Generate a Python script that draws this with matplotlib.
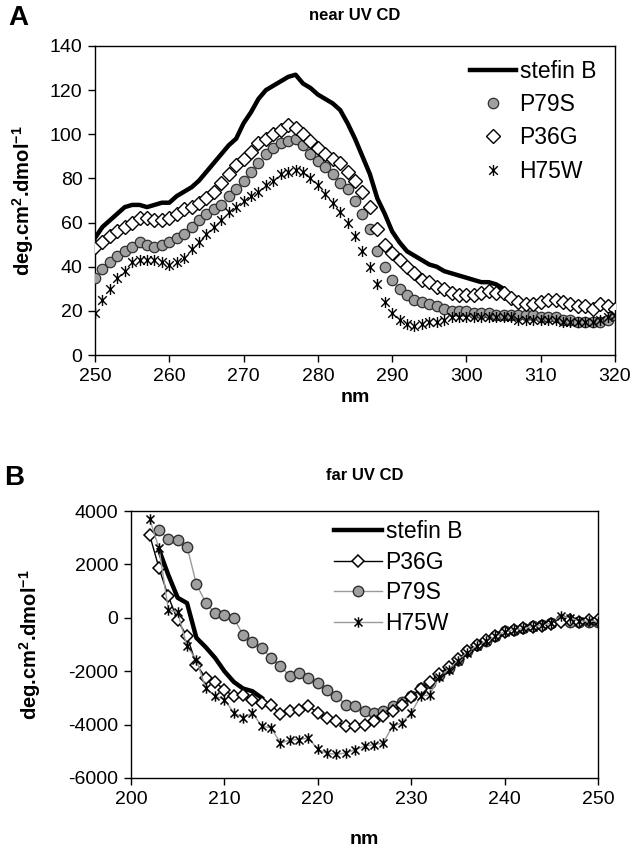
import numpy as np
import matplotlib
matplotlib.use("Agg")
import matplotlib.pyplot as plt
from matplotlib.path import Path

plt.rcParams["font.family"] = ["Liberation Sans", "DejaVu Sans"]
plt.rcParams["mathtext.fontset"] = "custom"
plt.rcParams["mathtext.bf"] = "Liberation Sans:bold"
plt.rcParams["mathtext.rm"] = "Liberation Sans:bold"
plt.rcParams["axes.unicode_minus"] = False

# ---------------- near UV CD (panel A) ----------------
nm_near = np.arange(250, 321)
nm_stefin_near = np.arange(250, 306)
stefin_near = [53, 58, 61, 64, 67, 68, 68, 67, 68, 69,
               69, 72, 74, 76, 79, 83, 87, 91, 95, 98,
               105, 110, 116, 120, 122, 124, 126, 127, 123, 121,
               118, 116, 114, 111, 105, 98, 90, 82, 71, 64,
               56, 51, 47, 45, 43, 41, 40, 38, 37, 36,
               35, 34, 33, 33, 32, 30]
p79s_near = [35, 39, 42, 45, 47, 49, 51, 50, 49, 50,
             51, 53, 55, 58, 61, 64, 66, 68, 72, 75,
             79, 83, 87, 91, 94, 96, 97, 98, 95, 91,
             88, 85, 82, 78, 75, 70, 64, 57, 47, 40,
             34, 30, 27, 25, 24, 23, 22, 21, 20, 20,
             20, 19, 19, 19, 18, 18, 18, 18, 18, 18,
             17, 17, 17, 16, 16, 15, 15, 15, 15, 16, 18]
p36g_near = [49, 51, 54, 56, 58, 60, 62, 62, 61, 61,
             62, 64, 66, 67, 69, 71, 74, 78, 82, 86,
             89, 92, 96, 98, 100, 102, 104, 103, 100, 97,
             94, 91, 89, 87, 83, 79, 74, 67, 57, 50,
             46, 43, 40, 37, 34, 33, 31, 30, 28, 27,
             27, 27, 28, 29, 28, 28, 26, 24, 23, 23,
             24, 25, 25, 24, 23, 22, 22, 21, 23, 22, 21]
h75w_near = [19, 25, 30, 35, 38, 42, 43, 43, 43, 42,
             41, 42, 44, 48, 51, 55, 58, 61, 65, 67,
             70, 72, 74, 77, 79, 82, 83, 84, 83, 80,
             77, 73, 69, 65, 60, 54, 47, 40, 32, 24,
             19, 16, 14, 13, 14, 15, 15, 16, 17, 17,
             17, 17, 17, 17, 17, 17, 17, 16, 16, 16,
             16, 16, 16, 15, 15, 15, 15, 15, 16, 17, 18]

# ---------------- far UV CD (panel B) ----------------
nm_stefin_far = np.arange(203, 215)
stefin_far = [2550, 1600, 750, 550, -750, -1100, -1500, -2000, -2400, -2650, -2750, -3000]
nm_p36g_far = np.arange(202, 251)
p36g_far = [3100, 1860, 800, -100, -700, -1750, -2250, -2400, -2700, -2940,
            -2900, -3060, -3190, -3250, -3620, -3500, -3440, -3310, -3560, -3750,
            -3880, -4060, -4060, -4000, -3880, -3690, -3500, -3250, -2950, -2650,
            -2400, -2100, -1850, -1550, -1250, -1000, -850, -700, -550, -450,
            -400, -350, -300, -250, -150, -100, -150, -100, -100]
nm_p79s_far = np.arange(203, 251)
p79s_far = [3300, 2940, 2900, 2670, 1260, 570, 170, 110, -10, -640,
            -920, -1130, -1510, -1800, -2190, -2060, -2250, -2440, -2690, -2940,
            -3250, -3310, -3500, -3560, -3500, -3290, -3160, -2940, -2630, -2440,
            -2130, -1880, -1570, -1260, -1010, -880, -700, -510, -450, -390,
            -320, -260, -200, -80, -140, -140, -140, -150]
nm_h75w_far = np.arange(202, 251)
h75w_far = [3700, 2600, 300, 200, -1070, -1570, -2630, -2940, -3060, -3560,
            -3750, -3560, -4060, -4120, -4690, -4580, -4560, -4500, -4930, -5080,
            -5110, -5060, -4940, -4810, -4750, -4690, -4060, -3940, -3560, -2940,
            -2880, -2200, -1940, -1600, -1300, -1050, -880, -700, -520, -450,
            -400, -330, -270, -200, 50, 0, -120, -130, -120]

# Excel style star marker: X plus vertical bar
star = Path([(-1, -1), (1, 1), (-1, 1), (1, -1), (0, -1.3), (0, 1.3)],
            [Path.MOVETO, Path.LINETO, Path.MOVETO, Path.LINETO, Path.MOVETO, Path.LINETO])

ylab = r"deg.cm$^{\mathbf{2}}$.dmol$^{\mathbf{-1}}$"

fig = plt.figure(figsize=(6.34, 8.52), dpi=100)

############################## PANEL A ##############################
ax1 = fig.add_axes([95 / 634, 1 - 355 / 852, 520 / 634, 309 / 852])
ax1.plot(nm_stefin_near, stefin_near, color="black", lw=3.2, label="stefin B", zorder=2)
ax1.plot(nm_near, p79s_near, ls="none", marker="o", ms=7.5, mfc="#a0a0a0", mec="#303030",
         mew=0.9, label="P79S", zorder=3)
ax1.plot(nm_near, p36g_near, ls="none", marker="D", ms=6.8, mfc="white", mec="black",
         mew=1.0, label="P36G", zorder=4)
ax1.plot(nm_near, h75w_near, ls="none", marker=star, ms=8, mfc="black", mec="black",
         mew=1.0, label="H75W", zorder=5)
ax1.set_xlim(250, 320)
ax1.set_ylim(0, 140)
ax1.set_xticks(range(250, 321, 10))
ax1.set_yticks(range(0, 141, 20))
ax1.tick_params(direction="out", labelsize=14, length=5, width=1, pad=4)
ax1.set_xlabel("nm", fontsize=14, fontweight="bold", labelpad=3)
ax1.set_ylabel(ylab, fontsize=14.5, fontweight="bold", labelpad=10)
ax1.set_title("near UV CD", fontsize=12, fontweight="bold", pad=19)
ax1.legend(loc="upper right", bbox_to_anchor=(0.99, 1.0), frameon=False, fontsize=16.5,
           handlelength=2.0, handletextpad=0.15, labelspacing=0.45, borderaxespad=0.2)
for s in ax1.spines.values():
    s.set_linewidth(1)

############################## PANEL B ##############################
ax2 = fig.add_axes([131 / 634, 1 - 778 / 852, 467 / 634, 267 / 852])
ax2.plot(nm_stefin_far, stefin_far, color="black", lw=3.2, label="stefin B", zorder=3)
ax2.plot(nm_p36g_far, p36g_far, color="black", lw=1, marker="D", ms=6.5, mfc="white",
         mec="black", mew=1.1, label="P36G", zorder=4)
ax2.plot(nm_p79s_far, p79s_far, color="#9a9a9a", lw=1, marker="o", ms=7.5, mfc="#a0a0a0",
         mec="#303030", mew=1.0, label="P79S", zorder=2)
ax2.plot(nm_h75w_far, h75w_far, color="#9a9a9a", lw=1, marker=star, ms=7.5, mfc="black",
         mec="black", mew=1.1, label="H75W", zorder=5)
ax2.set_xlim(200, 250)
ax2.set_ylim(-6000, 4000)
ax2.set_xticks(range(200, 251, 10))
ax2.set_yticks(range(-6000, 4001, 2000))
ax2.tick_params(direction="out", labelsize=14, length=5, width=1, pad=4)
ax2.set_xlabel("nm", fontsize=14, fontweight="bold", labelpad=17)
ax2.set_ylabel(ylab, fontsize=14.5, fontweight="bold", labelpad=18)
ax2.set_title("far UV CD", fontsize=12, fontweight="bold", pad=22)
ax2.legend(loc="upper left", bbox_to_anchor=(0.415, 1.0), frameon=False, fontsize=16.5,
           handlelength=2.1, handletextpad=0.15, labelspacing=0.33, borderaxespad=0.0)
for s in ax2.spines.values():
    s.set_linewidth(1)

# panel letters
fig.text(8 / 634, 1 - 18 / 852, "A", fontsize=20, fontweight="bold", va="center")
fig.text(4 / 634, 1 - 478 / 852, "B", fontsize=20, fontweight="bold", va="center")

fig.savefig("out.png", dpi=100)
